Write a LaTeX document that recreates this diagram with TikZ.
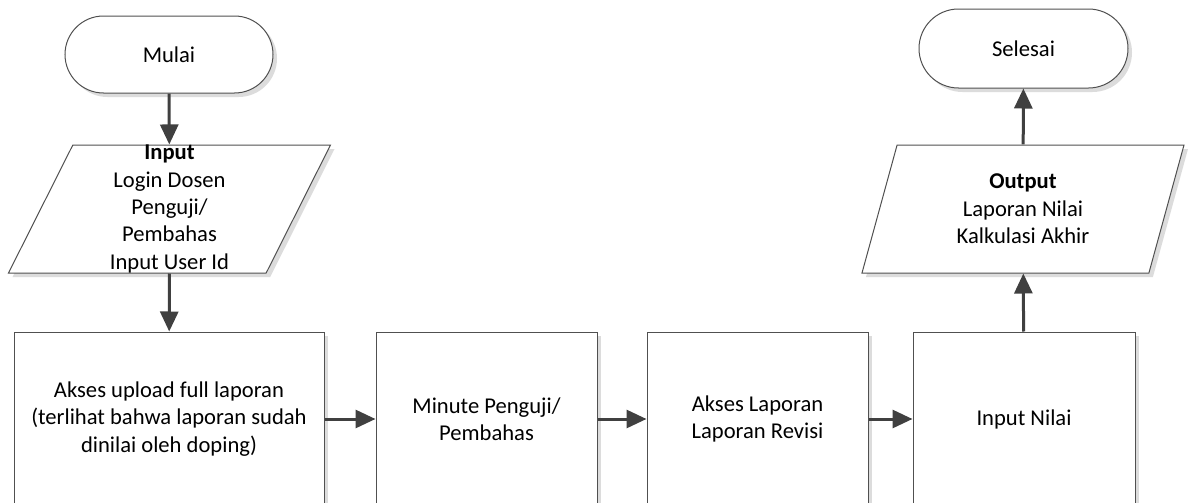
\documentclass[tikz,border=0pt]{standalone}
\usepackage{fontspec}
\setmainfont{Carlito}
\usetikzlibrary{arrows.meta,shapes.geometric,shapes.misc,shadows}
\definecolor{edgegray}{HTML}{505050}
\definecolor{arrowgray}{HTML}{404040}
\definecolor{shadowgray}{HTML}{DCDCDC}
\begin{document}
\begin{tikzpicture}[x=0.5pt,y=-0.5pt,
  base/.style={draw=edgegray,line width=0.5pt,fill=white,align=center,inner sep=0pt,
    font=\fontsize{11.3pt}{13.7pt}\selectfont,
    drop shadow={shadow xshift=2pt,shadow yshift=-2pt,fill=shadowgray,opacity=1}},
  terminal/.style={base,rounded rectangle,minimum width=104pt,minimum height=38.5pt},
  io/.style={base,trapezium,trapezium left angle=63.3,trapezium right angle=116.7,
    trapezium stretches body,minimum width=161pt,minimum height=64pt},
  process/.style={base,rectangle,minimum height=87pt},
  flow/.style={draw=arrowgray,line width=1.5pt,-{Triangle[length=10pt,width=9pt]}}]
\useasboundingbox (0,0) rectangle (1191,503);
\clip (0,0) rectangle (1191,503);
\fill[white] (0,0) rectangle (1191,503);

% start / end terminals
\node[terminal] (start) at (169,54.5) {Mulai};
\node[terminal,minimum width=104.5pt,minimum height=39.5pt] (end) at (1023.5,48.5) {Selesai};

% input / output
\node[io] (in) at (169.5,209) {\textbf{Input}\\Login Dosen\\Penguji/\\Pembahas\\Input User Id};
\node[io] (out) at (1023,209) {\textbf{Output}\\Laporan Nilai\\Kalkulasi Akhir};

% process steps
\node[process,minimum width=155pt] (b1) at (169,419)
  {Akses upload full laporan\\(terlihat bahwa laporan sudah\\dinilai oleh doping)};
\node[process,minimum width=110.5pt] (b2) at (486.5,419) {Minute Penguji/\\Pembahas};
\node[process,minimum width=110.5pt] (b3) at (757.5,419) {Akses Laporan\\Laporan Revisi};
\node[process,minimum width=111pt] (b4) at (1024,419) {Input Nilai};

% connectors
\draw[flow] (start) -- (in);
\draw[flow] (in) -- (b1);
\draw[flow] (b1) -- (b2);
\draw[flow] (b2) -- (b3);
\draw[flow] (b3) -- (b4);
\draw[flow] (b4) -- (out);
\draw[flow] (out) -- (end);
\end{tikzpicture}
\end{document}
